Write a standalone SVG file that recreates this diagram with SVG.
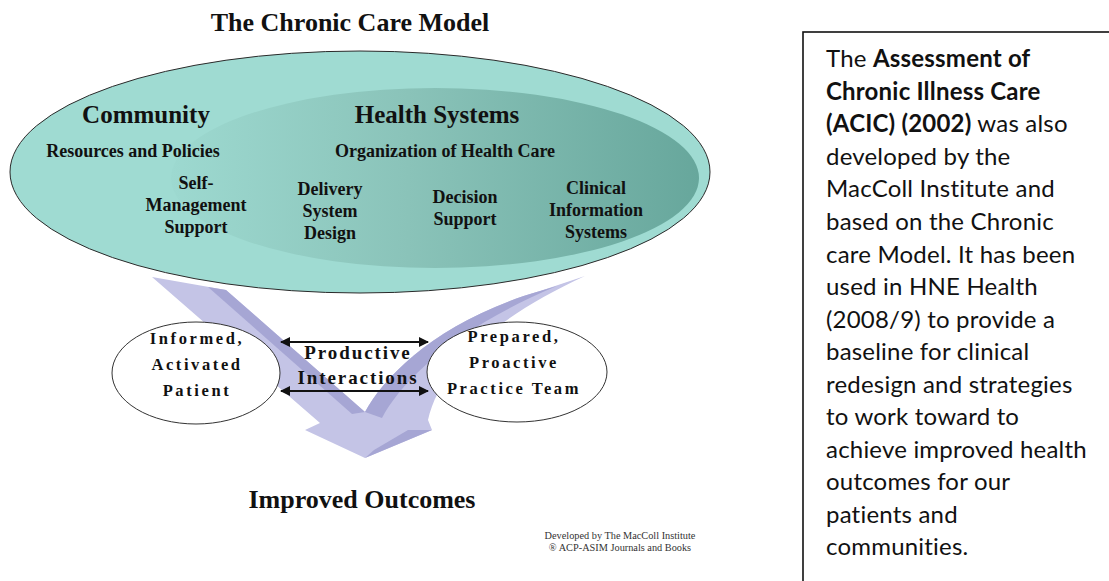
<svg xmlns="http://www.w3.org/2000/svg" width="1109" height="581" viewBox="0 0 1109 581">
  <style>
    .serif { font-family: "Liberation Serif", "Times New Roman", serif; font-weight: bold; fill: #111; text-anchor: middle; }
    .head { font-size: 25px; }
    .lbl { font-size: 18px; }
    .pat { font-size: 16.5px; letter-spacing: 2.6px; }
    .pi { font-size: 19px; letter-spacing: 1.9px; }
    .credit { font-family: "Liberation Serif", "Times New Roman", serif; font-size: 10.3px; fill: #333; text-anchor: middle; }
    .note { font-family: Lato, "Open Sans", sans-serif; font-size: 24px; letter-spacing: 0.2px; fill: #111; }
    .note tspan.b { font-weight: bold; }
    .arrow-light { fill: #c4c4e6; }
    .arrow-dark { fill: #a6a6d4; }
    .pill { fill: #fff; stroke: #333; stroke-width: 1; }
    .link { stroke: #111; stroke-width: 2; fill: none; marker-start: url(#tipStart); marker-end: url(#tipEnd); }
  </style>
  <defs>
    <linearGradient id="hsShade" x1="0" y1="0" x2="1" y2="0">
      <stop offset="0" stop-color="#9dd9d0"/>
      <stop offset="0.45" stop-color="#8ac3b9"/>
      <stop offset="1" stop-color="#67a79c"/>
    </linearGradient>
    <marker id="tipEnd" viewBox="0 0 10 10" refX="9" refY="5" markerWidth="5" markerHeight="5" orient="auto" markerUnits="strokeWidth">
      <path d="M0,0 L10,5 L0,10 Z" fill="#111"/>
    </marker>
    <marker id="tipStart" viewBox="0 0 10 10" refX="1" refY="5" markerWidth="5" markerHeight="5" orient="auto" markerUnits="strokeWidth">
      <path d="M10,0 L0,5 L10,10 Z" fill="#111"/>
    </marker>
  </defs>

  <rect width="1109" height="581" fill="#fff"/>

  <text class="serif" x="350" y="31" font-size="26">The Chronic Care Model</text>

  <!-- big downward V arrow behind the model ellipse -->
  <g id="flow-arrow">
    <path class="arrow-light" d="M152,277 L226,290 L365,412 C385,375 440,320 540,291 L585,276 C500,315 440,365 428,420 L432,430 L365,458 L305,430 L320,423 Z"/>
    <path class="arrow-dark" d="M208,287 L226,290 L365,412 L352,414 Z"/>
    <path class="arrow-dark" d="M540,291 C440,320 385,375 365,412 L382,418 C402,380 456,328 557,286 Z"/>
    <path class="arrow-dark" d="M408,430 L432,430 L365,458 L374,450 Z"/>
  </g>

  <!-- community / health systems ellipse -->
  <g id="model">
    <ellipse cx="360" cy="172" rx="350" ry="121" fill="#9fdbd2" stroke="#2a2a2a" stroke-width="1"/>
    <ellipse cx="435" cy="178" rx="264" ry="90" fill="url(#hsShade)"/>
    <text class="serif head" x="146" y="123">Community</text>
    <text class="serif head" x="437" y="123">Health Systems</text>
    <text class="serif lbl" x="133" y="157">Resources and Policies</text>
    <text class="serif lbl" x="445" y="157">Organization of Health Care</text>
  </g>
  <g id="self-management">
    <text class="serif lbl" x="196" y="189">Self-</text>
    <text class="serif lbl" x="196" y="211">Management</text>
    <text class="serif lbl" x="196" y="233">Support</text>
  </g>
  <g id="delivery-system">
    <text class="serif lbl" x="330" y="195">Delivery</text>
    <text class="serif lbl" x="330" y="217">System</text>
    <text class="serif lbl" x="330" y="239">Design</text>
  </g>
  <g id="decision-support">
    <text class="serif lbl" x="465" y="203">Decision</text>
    <text class="serif lbl" x="465" y="225">Support</text>
  </g>
  <g id="clinical-info">
    <text class="serif lbl" x="596" y="194">Clinical</text>
    <text class="serif lbl" x="596" y="216">Information</text>
    <text class="serif lbl" x="596" y="238">Systems</text>
  </g>

  <g id="patient">
    <ellipse class="pill" cx="196" cy="373" rx="84" ry="51"/>
    <text class="serif pat" x="197" y="344">Informed,</text>
    <text class="serif pat" x="197" y="370">Activated</text>
    <text class="serif pat" x="197" y="396">Patient</text>
  </g>
  <g id="team">
    <ellipse class="pill" cx="517" cy="372" rx="90" ry="50"/>
    <text class="serif pat" x="514" y="342">Prepared,</text>
    <text class="serif pat" x="514" y="368">Proactive</text>
    <text class="serif pat" x="514" y="394">Practice Team</text>
  </g>

  <g id="connectors">
    <line class="link" x1="281" y1="342" x2="428" y2="342"/>
    <line class="link" x1="281" y1="391" x2="428" y2="391"/>
  </g>
  <g id="interactions">
    <text class="serif pi" x="358" y="359">Productive</text>
    <text class="serif pi" x="358" y="384">Interactions</text>
  </g>

  <g id="outcomes">
    <text class="serif" x="362" y="508" font-size="26">Improved Outcomes</text>
  </g>

  <g id="credit">
    <text class="credit" x="620" y="539">Developed by The MacColl Institute</text>
    <text class="credit" x="620" y="551">® ACP-ASIM Journals and Books</text>
  </g>

  <!-- ACIC note panel -->
  <g id="acic-note">
    <rect x="803" y="32" width="320" height="570" fill="#fff" stroke="#111" stroke-width="1.6"/>
    <text class="note" x="826">
      <tspan x="826" y="67">The <tspan class="b">Assessment of</tspan></tspan>
      <tspan x="826" y="99.5" class="b">Chronic Illness Care</tspan>
      <tspan x="826" y="132"><tspan class="b">(ACIC) (2002)</tspan> was also</tspan>
      <tspan x="826" y="164.5">developed by the</tspan>
      <tspan x="826" y="197">MacColl Institute and</tspan>
      <tspan x="826" y="230">based on the Chronic</tspan>
      <tspan x="826" y="262.5">care Model. It has been</tspan>
      <tspan x="826" y="295">used in HNE Health</tspan>
      <tspan x="826" y="327.5">(2008/9) to provide a</tspan>
      <tspan x="826" y="360">baseline for clinical</tspan>
      <tspan x="826" y="392.5">redesign and strategies</tspan>
      <tspan x="826" y="425">to work toward to</tspan>
      <tspan x="826" y="457.5">achieve improved health</tspan>
      <tspan x="826" y="490">outcomes for our</tspan>
      <tspan x="826" y="522.5">patients and</tspan>
      <tspan x="826" y="555">communities.</tspan>
    </text>
  </g>
</svg>
